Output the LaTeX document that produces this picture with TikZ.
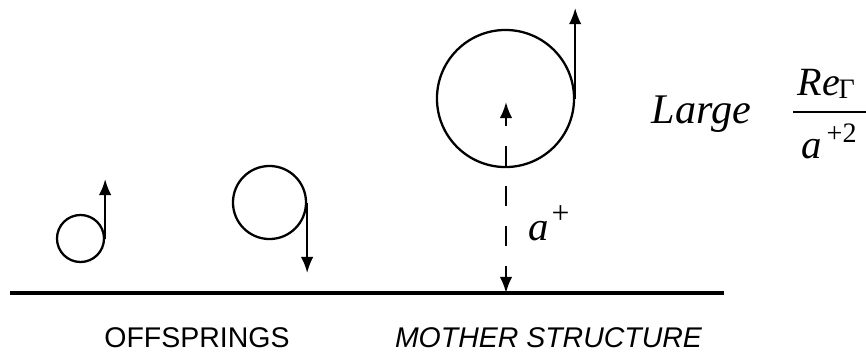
\documentclass[tikz,border=0pt]{standalone}
\usepackage{fontspec}
\setmainfont{Liberation Serif}
\setsansfont{Liberation Sans}
\usetikzlibrary{arrows.meta}
\begin{document}
\begin{tikzpicture}[x=0.01cm,y=-0.01cm,
  vortex/.style={circle,draw,line width=0.65pt,inner sep=0pt},
  tipline/.style={line width=0.65pt,-{Latex[length=4.6pt,width=3.6pt]}},
  dashline/.style={line width=0.65pt,{Latex[length=4.6pt,width=3.6pt]}-{Latex[length=4.6pt,width=3.6pt]},dash pattern=on 0.2cm off 0.2cm,dash phase=0.11cm},
  txt/.style={inner sep=0pt,anchor=base west},
  lab/.style={inner sep=0pt,anchor=base,font=\sffamily\fontsize{8.1}{9}\selectfont}]
\useasboundingbox (0,0) rectangle (866,351);
% ground
\coordinate (gl) at (10,293);
\coordinate (gr) at (724,293);
\draw[line width=0.95pt] (gl) -- (gr);
% small circle
\node[vortex,minimum size=0.47cm] (c1) at (80.5,238.5) {};
\coordinate (t1) at (104,179);
\draw[tipline] (c1.east) -- (c1.east |- t1);
% medium circle
\node[vortex,minimum size=0.73cm] (c2) at (269.5,202.5) {};
\coordinate (t2) at (306,273);
\draw[tipline] (c2.east) -- (c2.east |- t2);
% big circle
\node[vortex,minimum size=1.37cm] (c3) at (505.5,98.5) {};
\coordinate (t3) at (574,8);
\draw[tipline] (c3.east) -- (c3.east |- t3);
\coordinate (ctop) at (506,102);
\coordinate (g) at (506,293);
\draw[dashline] (ctop) -- (g);
% labels
\node[txt,font=\itshape\fontsize{11.6}{13}\selectfont] (a1) at (528,240) {a};
\node[txt,font=\fontsize{9}{10}\selectfont] (p1) at (551,223) {+};
\node[txt,font=\itshape\fontsize{12}{14}\selectfont] (lg) at (651,123) {Large};
\node[txt,font=\itshape\fontsize{11.4}{13}\selectfont] (re) at (797,95) {Re};
\node[txt,font=\fontsize{8}{9}\selectfont] (gam) at (838,98) {Γ};
\coordinate (bl) at (793,112);
\coordinate (br) at (900,112);
\draw[line width=0.5pt] (bl) -- (br);
\node[txt,font=\itshape\fontsize{11.6}{13}\selectfont] (a2) at (801,158) {a};
\node[txt,font=\fontsize{8}{9}\selectfont] (p2) at (826,142) {+2};
\node[lab] (off) at (197,347) {OFFSPRINGS};
\node[lab,font=\sffamily\itshape\fontsize{8.1}{9}\selectfont] (mo) at (548.5,347) {MOTHER STRUCTURE};
\end{tikzpicture}
\end{document}
